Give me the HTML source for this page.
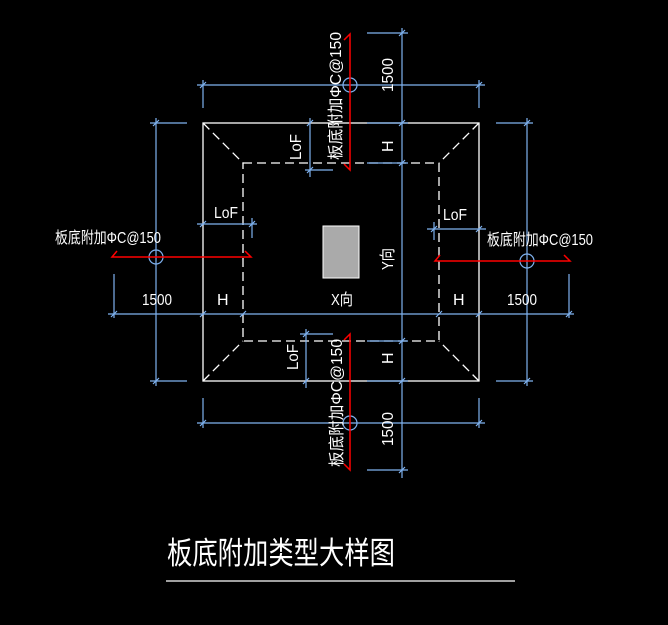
<!DOCTYPE html>
<html><head><meta charset="utf-8"><style>
html,body{margin:0;padding:0;background:#000;}
svg{display:block;}
text{font-family:"Liberation Sans","Noto Sans CJK SC",sans-serif;fill:#fff;}
</style></head><body>
<svg width="668" height="625" viewBox="0 0 668 625" xmlns="http://www.w3.org/2000/svg">
<rect width="668" height="625" fill="#000"/>
<!-- outer rect -->
<g stroke="#fff" stroke-width="1.3" fill="none">
<rect x="203" y="123" width="276" height="258"/>
</g>
<g stroke="#fff" stroke-width="1.3" fill="none" stroke-dasharray="9,5">
<rect x="243" y="163" width="196" height="178"/>
<line x1="203" y1="123" x2="243" y2="163"/>
<line x1="479" y1="123" x2="439" y2="163"/>
<line x1="203" y1="381" x2="243" y2="341"/>
<line x1="479" y1="381" x2="439" y2="341"/>
</g>
<rect x="323" y="226" width="36" height="52" fill="#aaa" stroke="#fff" stroke-width="1"/>
<!-- blue dims -->
<g stroke="#7fb2f0" stroke-width="1.2" fill="none">
<!-- top horizontal -->
<line x1="197" y1="85" x2="485" y2="85"/>
<line x1="203" y1="80" x2="203" y2="108"/><line x1="479" y1="80" x2="479" y2="108"/>
<!-- bottom horizontal -->
<line x1="197" y1="423" x2="485" y2="423"/>
<line x1="203" y1="398" x2="203" y2="428"/><line x1="479" y1="398" x2="479" y2="428"/>
<!-- right vertical x=402 -->
<line x1="402" y1="28" x2="402" y2="478"/>
<line x1="367" y1="33" x2="408" y2="33"/>
<line x1="367" y1="470" x2="408" y2="470"/>
<line x1="367" y1="123" x2="408" y2="123"/>
<line x1="367" y1="163" x2="408" y2="163"/>
<line x1="367" y1="341" x2="408" y2="341"/>
<line x1="367" y1="381" x2="408" y2="381"/>
<!-- left vertical -->
<line x1="156" y1="118" x2="156" y2="386"/>
<line x1="150" y1="123" x2="187" y2="123"/><line x1="150" y1="381" x2="187" y2="381"/>
<!-- right vertical -->
<line x1="527" y1="118" x2="527" y2="386"/>
<line x1="496" y1="123" x2="533" y2="123"/><line x1="496" y1="381" x2="533" y2="381"/>
<!-- horizontal y=314 -->
<line x1="108" y1="314" x2="574" y2="314"/>
<line x1="114" y1="274" x2="114" y2="318"/><line x1="569" y1="274" x2="569" y2="318"/>
<!-- top LoF -->
<line x1="310" y1="118" x2="310" y2="177"/>
<line x1="305" y1="170" x2="333" y2="170"/>
<!-- bottom LoF -->
<line x1="306" y1="329" x2="306" y2="388"/>
<line x1="300" y1="334" x2="333" y2="334"/>
<!-- left LoF -->
<line x1="197" y1="224" x2="257" y2="224"/>
<line x1="252" y1="218" x2="252" y2="238"/>
<!-- right LoF -->
<line x1="427" y1="229" x2="486" y2="229"/>
<line x1="434" y1="222" x2="434" y2="240"/>
<!-- circles -->
<circle cx="350" cy="85" r="7"/>
<circle cx="350" cy="423" r="7"/>
<circle cx="156" cy="257" r="7"/>
<circle cx="527" cy="261" r="7"/>
</g>
<!-- tick marks -->
<g stroke="#7fb2f0" stroke-width="1.2">
<path d="M200 88l6-6M476 88l6-6M200 426l6-6M476 426l6-6M399 36l6-6M399 473l6-6M399 126l6-6M399 166l6-6M399 344l6-6M399 384l6-6M153 126l6-6M153 384l6-6M524 126l6-6M524 384l6-6M111 317l6-6M200 317l6-6M240 317l6-6M436 317l6-6M476 317l6-6M566 317l6-6M307 126l6-6M307 173l6-6M303 337l6-6M303 384l6-6M200 227l6-6M249 227l6-6M431 232l6-6M476 232l6-6"/>
</g>
<!-- red -->
<g stroke="#f00" stroke-width="1.5" fill="none">
<path d="M344 40l6-6v136l-6-6"/>
<path d="M344 340l6-6v136l-6-6"/>
<path d="M117 251l-5 6h139l-6-6"/>
<path d="M440 255l-5 6h135l-6-6"/>
</g>
<!-- texts -->
<g font-size="16">
<text x="55" y="243" textLength="106" lengthAdjust="spacingAndGlyphs">板底附加ΦC@150</text>
<text x="487" y="245" textLength="106" lengthAdjust="spacingAndGlyphs">板底附加ΦC@150</text>
<text x="142" y="305" textLength="30" lengthAdjust="spacingAndGlyphs">1500</text>
<text x="507" y="305" textLength="30" lengthAdjust="spacingAndGlyphs">1500</text>
<text x="217" y="305">H</text>
<text x="453" y="305">H</text>
<text x="331" y="305" textLength="22" lengthAdjust="spacingAndGlyphs">X向</text>
<text x="214" y="218" textLength="24" lengthAdjust="spacingAndGlyphs">LoF</text>
<text x="443" y="220" textLength="24" lengthAdjust="spacingAndGlyphs">LoF</text>
<text transform="translate(393,152) rotate(-90)">H</text>
<text transform="translate(393,364) rotate(-90)">H</text>
<text transform="translate(393,92) rotate(-90)" textLength="34" lengthAdjust="spacingAndGlyphs">1500</text>
<text transform="translate(393,446) rotate(-90)" textLength="34" lengthAdjust="spacingAndGlyphs">1500</text>
<text transform="translate(393,270) rotate(-90)" textLength="22" lengthAdjust="spacingAndGlyphs">Y向</text>
<text transform="translate(301,160) rotate(-90)" textLength="26" lengthAdjust="spacingAndGlyphs">LoF</text>
<text transform="translate(298,370) rotate(-90)" textLength="26" lengthAdjust="spacingAndGlyphs">LoF</text>
<text transform="translate(341,160) rotate(-90)" textLength="128" lengthAdjust="spacingAndGlyphs">板底附加ΦC@150</text>
<text transform="translate(342,467) rotate(-90)" textLength="128" lengthAdjust="spacingAndGlyphs">板底附加ΦC@150</text>
</g>
<text x="167" y="564" font-size="31" textLength="228" lengthAdjust="spacingAndGlyphs">板底附加类型大样图</text>
<line x1="166" y1="581" x2="515" y2="581" stroke="#fff" stroke-width="1.2"/>
</svg>
</body></html>
